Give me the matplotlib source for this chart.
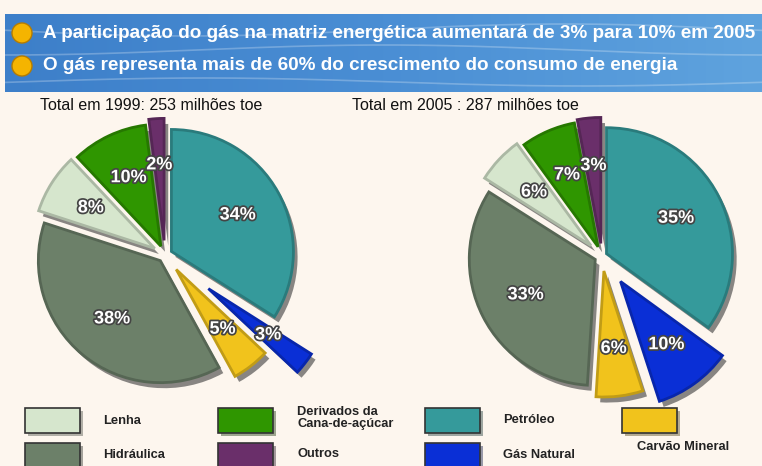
import numpy as np
import matplotlib
matplotlib.use('Agg')
import matplotlib.pyplot as plt
import matplotlib.patheffects as pe
from matplotlib.colors import LinearSegmentedColormap, to_rgb
from matplotlib.patches import Rectangle, Circle

# dados
fontes = ['Petróleo', 'Gás Natural', 'Carvão Mineral', 'Hidráulica', 'Lenha',
          'Derivados da\nCana-de-açúcar', 'Outros']
cores = ['#359a9b', '#0a2fd6', '#f1c31c', '#6c8069', '#d6e6cd', '#2f9600', '#6a2f6a']
valores_1999 = [34, 3, 5, 38, 8, 10, 2]
valores_2005 = [35, 10, 6, 33, 6, 7, 3]
titulo_1999 = 'Total em 1999: 253 milhões toe'
titulo_2005 = 'Total em 2005 : 287 milhões toe'
bullets = ['A participação do gás na matriz energética aumentará de 3% para 10% em 2005',
           'O gás representa mais de 60% do crescimento do consumo de energia']

W, H = 762, 466
fig = plt.figure(figsize=(W / 100, H / 100), dpi=100)
fig.patch.set_facecolor('#fdf6ee')

bg = fig.add_axes([0, 0, 1, 1])
bg.set_xlim(0, W)
bg.set_ylim(H, 0)
bg.axis('off')

# banner azul
grad = np.linspace(0, 1, 256).reshape(1, -1)
cmap_banner = LinearSegmentedColormap.from_list('b', ['#3d7fc9', '#4a8ed4', '#5fa3de'])
bg.imshow(grad, cmap=cmap_banner, extent=[5, W, 92, 14], aspect='auto', zorder=1)
xs = np.linspace(5, W, 300)
for amp, y0, ph in [(6, 30, 0.0), (5, 50, 1.5), (4, 82, 3.0)]:
    bg.plot(xs, y0 + amp * np.sin(xs / 120 + ph), color='white', alpha=0.25, lw=1.2, zorder=2)

for i, txt in enumerate(bullets):
    y = 33 + i * 33
    bg.add_patch(Circle((22, y), 10, facecolor='#f5b400', edgecolor='#b57c00', lw=1, zorder=3))
    bg.text(43, y, txt, color='white', fontsize=13.6, fontweight='bold', va='center',
            family='Liberation Sans', zorder=4)

bg.text(40, 105, titulo_1999, fontsize=11.5, va='center', family='Liberation Sans', color='#111111')
bg.text(352, 105, titulo_2005, fontsize=11.5, va='center', family='Liberation Sans', color='#111111')


def escurecer(c, f=0.6):
    r, g, b = to_rgb(c)
    return (r * f, g * f, b * f)


def pizza(cx, cy, R, valores, explode):
    lim = 1.45
    side = 2 * lim * R
    ax = fig.add_axes([(cx - side / 2) / W, (H - cy - side / 2) / H, side / W, side / H])
    wedges, texts, autotexts = ax.pie(
        valores, colors=cores, startangle=90, counterclock=False, explode=explode,
        autopct=lambda p: f'{p:.0f}%', pctdistance=0.62,
        wedgeprops=dict(linewidth=2), textprops=dict(color='white', fontsize=13,
                                                     fontweight='bold', family='Liberation Sans'))
    for w, c in zip(wedges, cores):
        w.set_edgecolor(escurecer(c, 0.8))
        w.set_path_effects([pe.SimplePatchShadow(offset=(3, -4), shadow_rgbFace='#3a3a3a', alpha=0.6),
                            pe.Normal()])
    for t in autotexts:
        t.set_path_effects([pe.withStroke(linewidth=2.5, foreground='#444444')])
    ax.set_xlim(-lim, lim)
    ax.set_ylim(-lim, lim)
    ax.set_aspect('equal')
    ax.axis('off')
    return ax


pizza(165, 255, 122, valores_1999, [0.06, 0.45, 0.15, 0.06, 0.1, 0.08, 0.12])
pizza(602, 256, 126, valores_2005, [0.04, 0.25, 0.12, 0.06, 0.12, 0.08, 0.1])

# legenda
leg_ordem = [(4, 25, 408, 103, 421), (5, 218, 408, 297, 418), (0, 425, 408, 503, 420),
             (2, 622, 408, 637, 447), (3, 25, 443, 103, 455), (6, 218, 443, 297, 454),
             (1, 425, 443, 503, 455)]
for idx, bx, by, tx, ty in leg_ordem:
    bg.add_patch(Rectangle((bx, by), 55, 25, facecolor=cores[idx], edgecolor='#333333', lw=1.2,
                           zorder=3,
                           path_effects=[pe.SimplePatchShadow(offset=(2, -2), alpha=0.4), pe.Normal()]))
    bg.text(tx, ty, fontes[idx], fontsize=9.3, fontweight='bold', va='center', ha='left',
            family='Liberation Sans', color='#222222', linespacing=0.95)

fig.savefig('out.png', dpi=100, facecolor=fig.get_facecolor())
